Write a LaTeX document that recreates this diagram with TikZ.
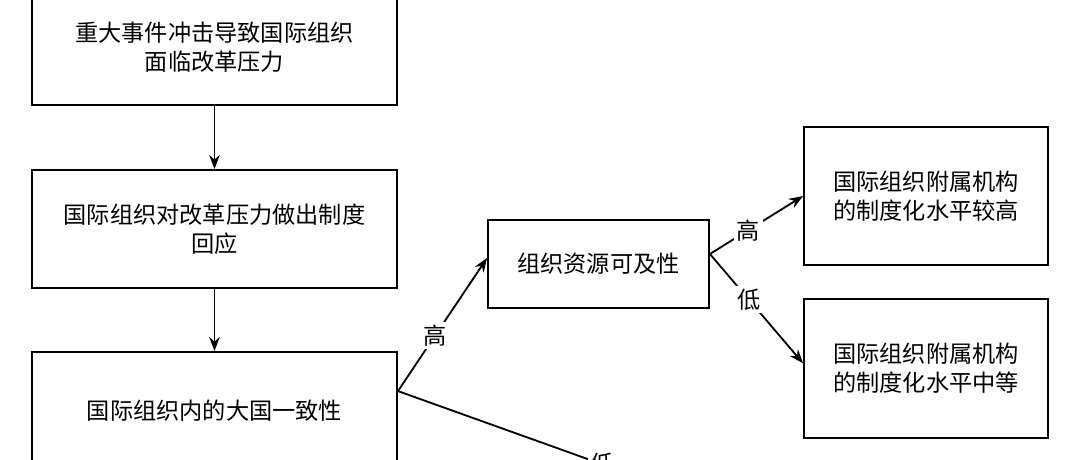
\documentclass[tikz,border=0pt]{standalone}
\usepackage{fontspec}
\setmainfont{Noto Sans CJK SC}
\usetikzlibrary{arrows.meta}
\tikzset{>={Stealth[length=10pt,width=7.5pt]}}

\begin{document}
\begin{tikzpicture}[x=0.025cm, y=-0.025cm,
	box/.style = {% text boxes
		draw, line width=1.3pt, align=center, inner sep=0pt,
		font=\fontsize{16.5}{20.5}\selectfont,},
	lbl/.style = {% branch labels
		fill=white, inner sep=2pt, font=\fontsize{16.5}{20.5}\selectfont,},
	every path/.style = {line width=1.3pt},
	]
	\useasboundingbox (0,0) rectangle (1080,460);
	
	% left column
	\node[box, minimum width=9.125cm, minimum height=2.9cm] (shock) at (214.5,47)
		{重大事件冲击导致国际组织\\面临改革压力};
	\node[box, minimum width=9.125cm, minimum height=2.95cm] (response) at (214.5,229)
		{国际组织对改革压力做出制度\\回应};
	\node[box, minimum width=9.125cm, minimum height=2.95cm] (unity) at (214.5,411)
		{国际组织内的大国一致性};
	% middle and right
	\node[box, minimum width=5.525cm, minimum height=2.2cm] (access) at (598.5,264)
		{组织资源可及性};
	\node[box, minimum width=6.1cm, minimum height=3.45cm] (high) at (926,196)
		{国际组织附属机构\\的制度化水平较高};
	\node[box, minimum width=6.1cm, minimum height=3.475cm] (middle) at (926,368.5)
		{国际组织附属机构\\的制度化水平中等};
	
	% connectors
	\draw[->] (shock) -- (response);
	\draw[->] (response) -- (unity);
	\coordinate (fork) at ([yshift=-1cm]unity.north east);
	\coordinate (below) at (769,524);
	\draw[->] (fork) -- ([yshift=0.15cm]access.west) node[lbl, pos=0.42] {高};
	\draw (fork) -- (below) node[lbl, pos=0.55] {低};
	\coordinate (out) at ([yshift=0.25cm]access.east);
	\draw[->] (out) -- (high.west) node[lbl, pos=0.41] {高};
	\draw[->] (out) -- ([yshift=0.13cm]middle.west) node[lbl, pos=0.42] {低};

\end{tikzpicture}
\end{document}
